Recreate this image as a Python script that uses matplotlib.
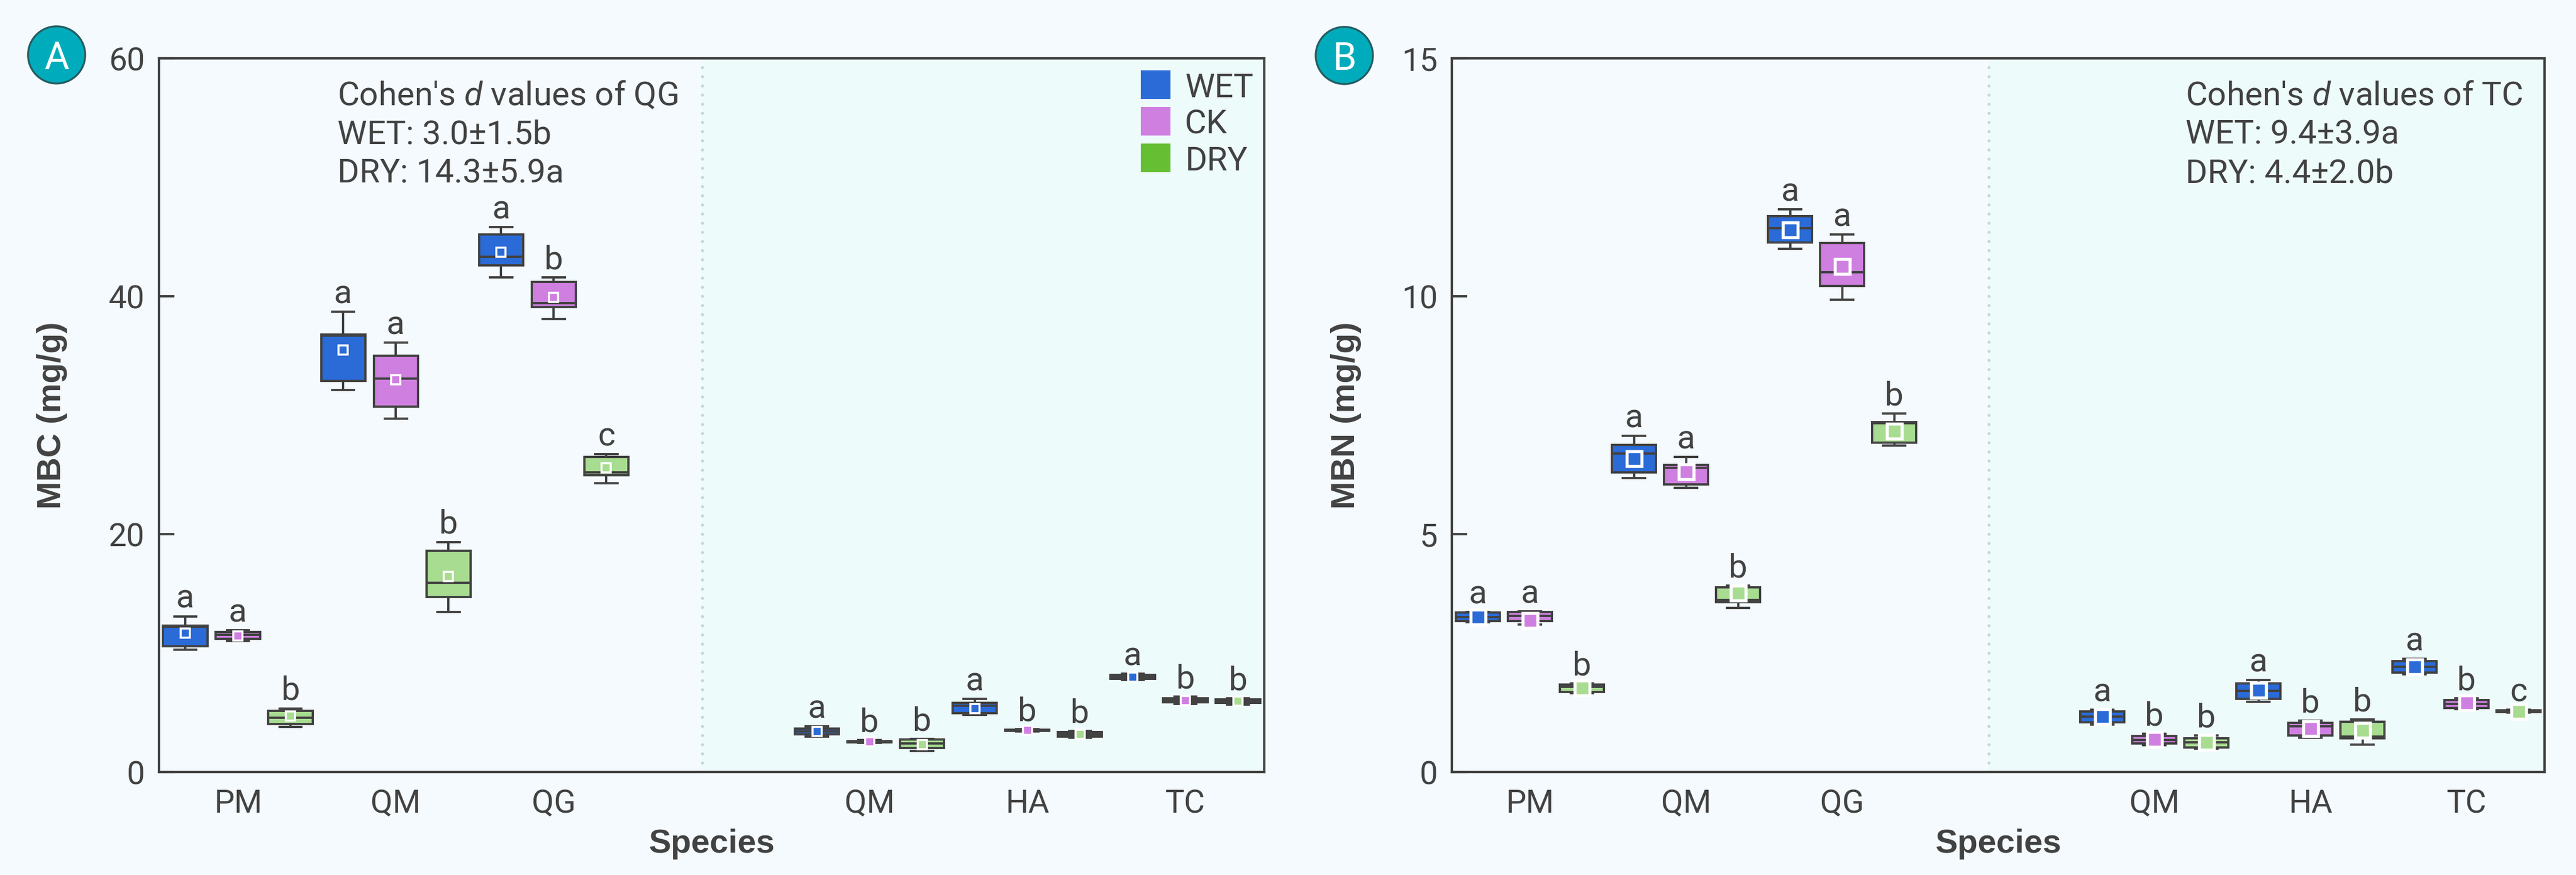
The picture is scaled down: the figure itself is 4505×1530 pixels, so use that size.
import matplotlib
matplotlib.use('Agg')
import matplotlib.pyplot as plt
from matplotlib.patches import Rectangle, Ellipse

plt.rcParams['font.family'] = ['Roboto', 'DejaVu Sans']
plt.rcParams['mathtext.fontset'] = 'custom'
plt.rcParams['mathtext.rm'] = 'Roboto'
plt.rcParams['mathtext.it'] = 'Roboto:italic'

# ---------------- data ----------------
species = ['PM', 'QM', 'QG', 'QM', 'HA', 'TC']
group_pos = [0, 1, 2, 4, 5, 6]
treatments = ['WET', 'CK', 'DRY']

# Panel A: MBC (mg/g)  order: PM, QM, QG | QM, HA, TC
mbc_wet_lo   = [10.3, 32.1, 41.6, 3.00, 4.80, 7.75]
mbc_wet_q1   = [10.6, 32.9, 42.6, 3.15, 4.95, 7.85]
mbc_wet_med  = [12.2, 36.7, 43.3, 3.40, 5.60, 8.00]
mbc_wet_q3   = [12.3, 36.8, 45.2, 3.65, 5.82, 8.15]
mbc_wet_hi   = [13.1, 38.7, 45.8, 3.85, 6.15, 8.25]
mbc_wet_mean = [11.7, 35.5, 43.7, 3.40, 5.35, 8.00]

mbc_ck_lo    = [11.0, 29.7, 38.1, 2.45, 3.40, 5.70]
mbc_ck_q1    = [11.2, 30.7, 39.1, 2.50, 3.45, 5.85]
mbc_ck_med   = [11.55, 33.1, 39.4, 2.57, 3.50, 6.05]
mbc_ck_q3    = [11.8, 35.0, 41.2, 2.62, 3.55, 6.20]
mbc_ck_hi    = [11.9, 36.1, 41.6, 2.68, 3.60, 6.35]
mbc_ck_mean  = [11.45, 33.0, 39.9, 2.57, 3.50, 6.00]

mbc_dry_lo   = [3.80, 13.45, 24.3, 1.80, 2.90, 5.65]
mbc_dry_q1   = [4.06, 14.7, 24.95, 2.00, 2.98, 5.80]
mbc_dry_med  = [4.57, 15.9, 25.2, 2.40, 3.17, 5.95]
mbc_dry_q3   = [5.15, 18.6, 26.5, 2.72, 3.37, 6.10]
mbc_dry_hi   = [5.36, 19.35, 26.75, 2.77, 3.45, 6.20]
mbc_dry_mean = [4.70, 16.45, 25.6, 2.30, 3.17, 5.94]

mbc_letters_wet = ['a', 'a', 'a', 'a', 'a', 'a']
mbc_letters_ck  = ['a', 'a', 'b', 'b', 'b', 'b']
mbc_letters_dry = ['b', 'b', 'c', 'b', 'b', 'b']

# Panel B: MBN (mg/g)
mbn_wet_lo   = [3.15, 6.18, 11.00, 1.00, 1.48, 2.06]
mbn_wet_q1   = [3.17, 6.30, 11.13, 1.05, 1.54, 2.09]
mbn_wet_med  = [3.26, 6.70, 11.43, 1.17, 1.71, 2.21]
mbn_wet_q3   = [3.35, 6.87, 11.68, 1.27, 1.86, 2.33]
mbn_wet_hi   = [3.37, 7.07, 11.83, 1.31, 1.94, 2.38]
mbn_wet_mean = [3.26, 6.59, 11.40, 1.17, 1.72, 2.21]

mbn_ck_lo    = [3.10, 5.97, 9.93, 0.57, 0.72, 1.32]
mbn_ck_q1    = [3.17, 6.05, 10.22, 0.60, 0.77, 1.35]
mbn_ck_med   = [3.28, 6.39, 10.51, 0.67, 0.96, 1.43]
mbn_ck_q3    = [3.36, 6.46, 11.12, 0.76, 1.03, 1.52]
mbn_ck_hi    = [3.38, 6.62, 11.30, 0.80, 1.08, 1.55]
mbn_ck_mean  = [3.19, 6.31, 10.63, 0.69, 0.91, 1.45]

mbn_dry_lo   = [1.66, 3.45, 6.86, 0.49, 0.58, 1.25]
mbn_dry_q1   = [1.68, 3.57, 6.92, 0.52, 0.71, 1.26]
mbn_dry_med  = [1.79, 3.62, 7.33, 0.63, 0.75, 1.28]
mbn_dry_q3   = [1.84, 3.88, 7.35, 0.71, 1.06, 1.30]
mbn_dry_hi   = [1.86, 3.92, 7.54, 0.77, 1.10, 1.31]
mbn_dry_mean = [1.77, 3.76, 7.16, 0.63, 0.88, 1.28]

mbn_letters_wet = ['a', 'a', 'a', 'a', 'a', 'a']
mbn_letters_ck  = ['a', 'a', 'a', 'b', 'b', 'b']
mbn_letters_dry = ['b', 'b', 'b', 'b', 'b', 'c']

cohen_A = ["Cohen's $\\it{d}$ values of QG", "WET: 3.0±1.5b", "DRY: 14.3±5.9a"]
cohen_B = ["Cohen's $\\it{d}$ values of TC", "WET: 9.4±3.9a", "DRY: 4.4±2.0b"]

# ---------------- style ----------------
BG = '#f4fafd'
BG_RIGHT = '#eefbfb'
DARK = '#424242'
box_colors = {'WET': '#2a6bd8', 'CK': '#cf7fe0', 'DRY': '#a8dc90'}
legend_colors = {'WET': '#2a6bd8', 'CK': '#cf7fe0', 'DRY': '#66bf33'}
offsets = {'WET': -1/3, 'CK': 0.0, 'DRY': 1/3}
FS_TICK = 13.5
FS_LET = 14
FS_TXT = 14
LABEL_FONT = ['Liberation Sans', 'DejaVu Sans']

W, H = 4505, 1530
fig = plt.figure(figsize=(W / 300, H / 300), dpi=300, facecolor=BG)


def make_stats(lo, q1, med, q3, hi, mean):
    return [dict(whislo=a, q1=b, med=c, q3=d, whishi=e, mean=f, fliers=[])
            for a, b, c, d, e, f in zip(lo, q1, med, q3, hi, mean)]


def draw_panel(ax, data, letters, ymax, yticks, ylabel, cohen, cohen_x, ms, mew):
    ax.set_facecolor(BG)
    ax.set_xlim(-0.5, 6.5)
    ax.set_ylim(0, ymax)
    ax.axvspan(2.94, 6.5, color=BG_RIGHT, zorder=0, lw=0)
    ax.axvline(2.94, color='#c3d7db', lw=1.2, linestyle=(0, (0.1, 3.1)),
               dash_capstyle='round', zorder=1)
    lw = 0.95
    for t in treatments:
        col = box_colors[t]
        pos = [p + offsets[t] for p in group_pos]
        ax.bxp(make_stats(*data[t]), positions=pos, widths=0.28,
               patch_artist=True, showmeans=True, showfliers=False,
               manage_ticks=False, zorder=3,
               boxprops=dict(facecolor=col, edgecolor=DARK, linewidth=lw),
               medianprops=dict(color=DARK, linewidth=lw),
               whiskerprops=dict(color=DARK, linewidth=lw),
               capprops=dict(color=DARK, linewidth=lw),
               meanprops=dict(marker='s', markerfacecolor=col,
                              markeredgecolor='white', markersize=ms,
                              markeredgewidth=mew))
        for p, hi, let in zip(pos, data[t][4], letters[t]):
            ax.annotate(let, (p, hi), xytext=(0, 3.5), textcoords='offset points',
                        ha='center', va='baseline', fontsize=FS_LET, color=DARK,
                        zorder=4)
    ax.set_xticks(group_pos)
    ax.set_xticklabels(species)
    ax.set_yticks(yticks)
    ax.tick_params(axis='x', length=0, pad=7.0, labelsize=FS_TICK, colors=DARK)
    ax.tick_params(axis='y', direction='in', length=6.4, width=1.0, pad=6,
                   labelsize=FS_TICK, colors=DARK)
    for s in ax.spines.values():
        s.set_color(DARK)
        s.set_linewidth(1.0)
        s.set_zorder(5)
    ax.set_xlabel('Species', fontsize=14, fontweight='bold', color=DARK,
                  labelpad=4, family=LABEL_FONT)
    ax.set_ylabel(ylabel, fontsize=14, fontweight='bold', color=DARK,
                  family=LABEL_FONT)
    ax.yaxis.set_label_coords(-0.0828, 0.5)
    for line, yb in zip(cohen, [184, 252, 319]):
        ax.text(cohen_x, (1350 - yb) / 1248, line, transform=ax.transAxes,
                fontsize=FS_TXT, color=DARK, ha='left', va='baseline')


def panel_badge(cx, cy, letter):
    r = 50
    fig.add_artist(Ellipse((cx / W, 1 - cy / H), 2 * r / W, 2 * r / H,
                           facecolor='#00acbb', edgecolor='#245c62', lw=0.8,
                           transform=fig.transFigure))
    fig.text(cx / W, 1 - cy / H, letter, color='white', fontsize=16,
             ha='center', va='center_baseline')


axA = fig.add_axes([278 / W, 180 / H, 1933 / W, 1248 / H])
dataA = {'WET': [mbc_wet_lo, mbc_wet_q1, mbc_wet_med, mbc_wet_q3, mbc_wet_hi, mbc_wet_mean],
         'CK': [mbc_ck_lo, mbc_ck_q1, mbc_ck_med, mbc_ck_q3, mbc_ck_hi, mbc_ck_mean],
         'DRY': [mbc_dry_lo, mbc_dry_q1, mbc_dry_med, mbc_dry_q3, mbc_dry_hi, mbc_dry_mean]}
lettersA = {'WET': mbc_letters_wet, 'CK': mbc_letters_ck, 'DRY': mbc_letters_dry}
draw_panel(axA, dataA, lettersA, 60, [0, 20, 40, 60], 'MBC (mg/g)', cohen_A,
           (590 - 278) / 1933, 4.0, 0.85)

# legend (panel A)
for i, t in enumerate(treatments):
    top = 123 + i * 64
    y0 = (1350 - top - 50) / 1248
    axA.add_patch(Rectangle(((1995 - 278) / 1933, y0), 52 / 1933, 50 / 1248,
                            transform=axA.transAxes, facecolor=legend_colors[t],
                            edgecolor='none', zorder=6))
    axA.text((2072 - 278) / 1933, y0 + 25 / 1248, t, transform=axA.transAxes,
             fontsize=FS_TXT, color=DARK, ha='left', va='center_baseline', zorder=6)

axB = fig.add_axes([2539 / W, 180 / H, 1911 / W, 1248 / H])
dataB = {'WET': [mbn_wet_lo, mbn_wet_q1, mbn_wet_med, mbn_wet_q3, mbn_wet_hi, mbn_wet_mean],
         'CK': [mbn_ck_lo, mbn_ck_q1, mbn_ck_med, mbn_ck_q3, mbn_ck_hi, mbn_ck_mean],
         'DRY': [mbn_dry_lo, mbn_dry_q1, mbn_dry_med, mbn_dry_q3, mbn_dry_hi, mbn_dry_mean]}
lettersB = {'WET': mbn_letters_wet, 'CK': mbn_letters_ck, 'DRY': mbn_letters_dry}
draw_panel(axB, dataB, lettersB, 15, [0, 5, 10, 15], 'MBN (mg/g)', cohen_B,
           (3822 - 2539) / 1911, 6.2, 1.3)

panel_badge(99, 96, 'A')
panel_badge(2351, 97, 'B')

fig.savefig('out.png', dpi=300, facecolor=BG)
